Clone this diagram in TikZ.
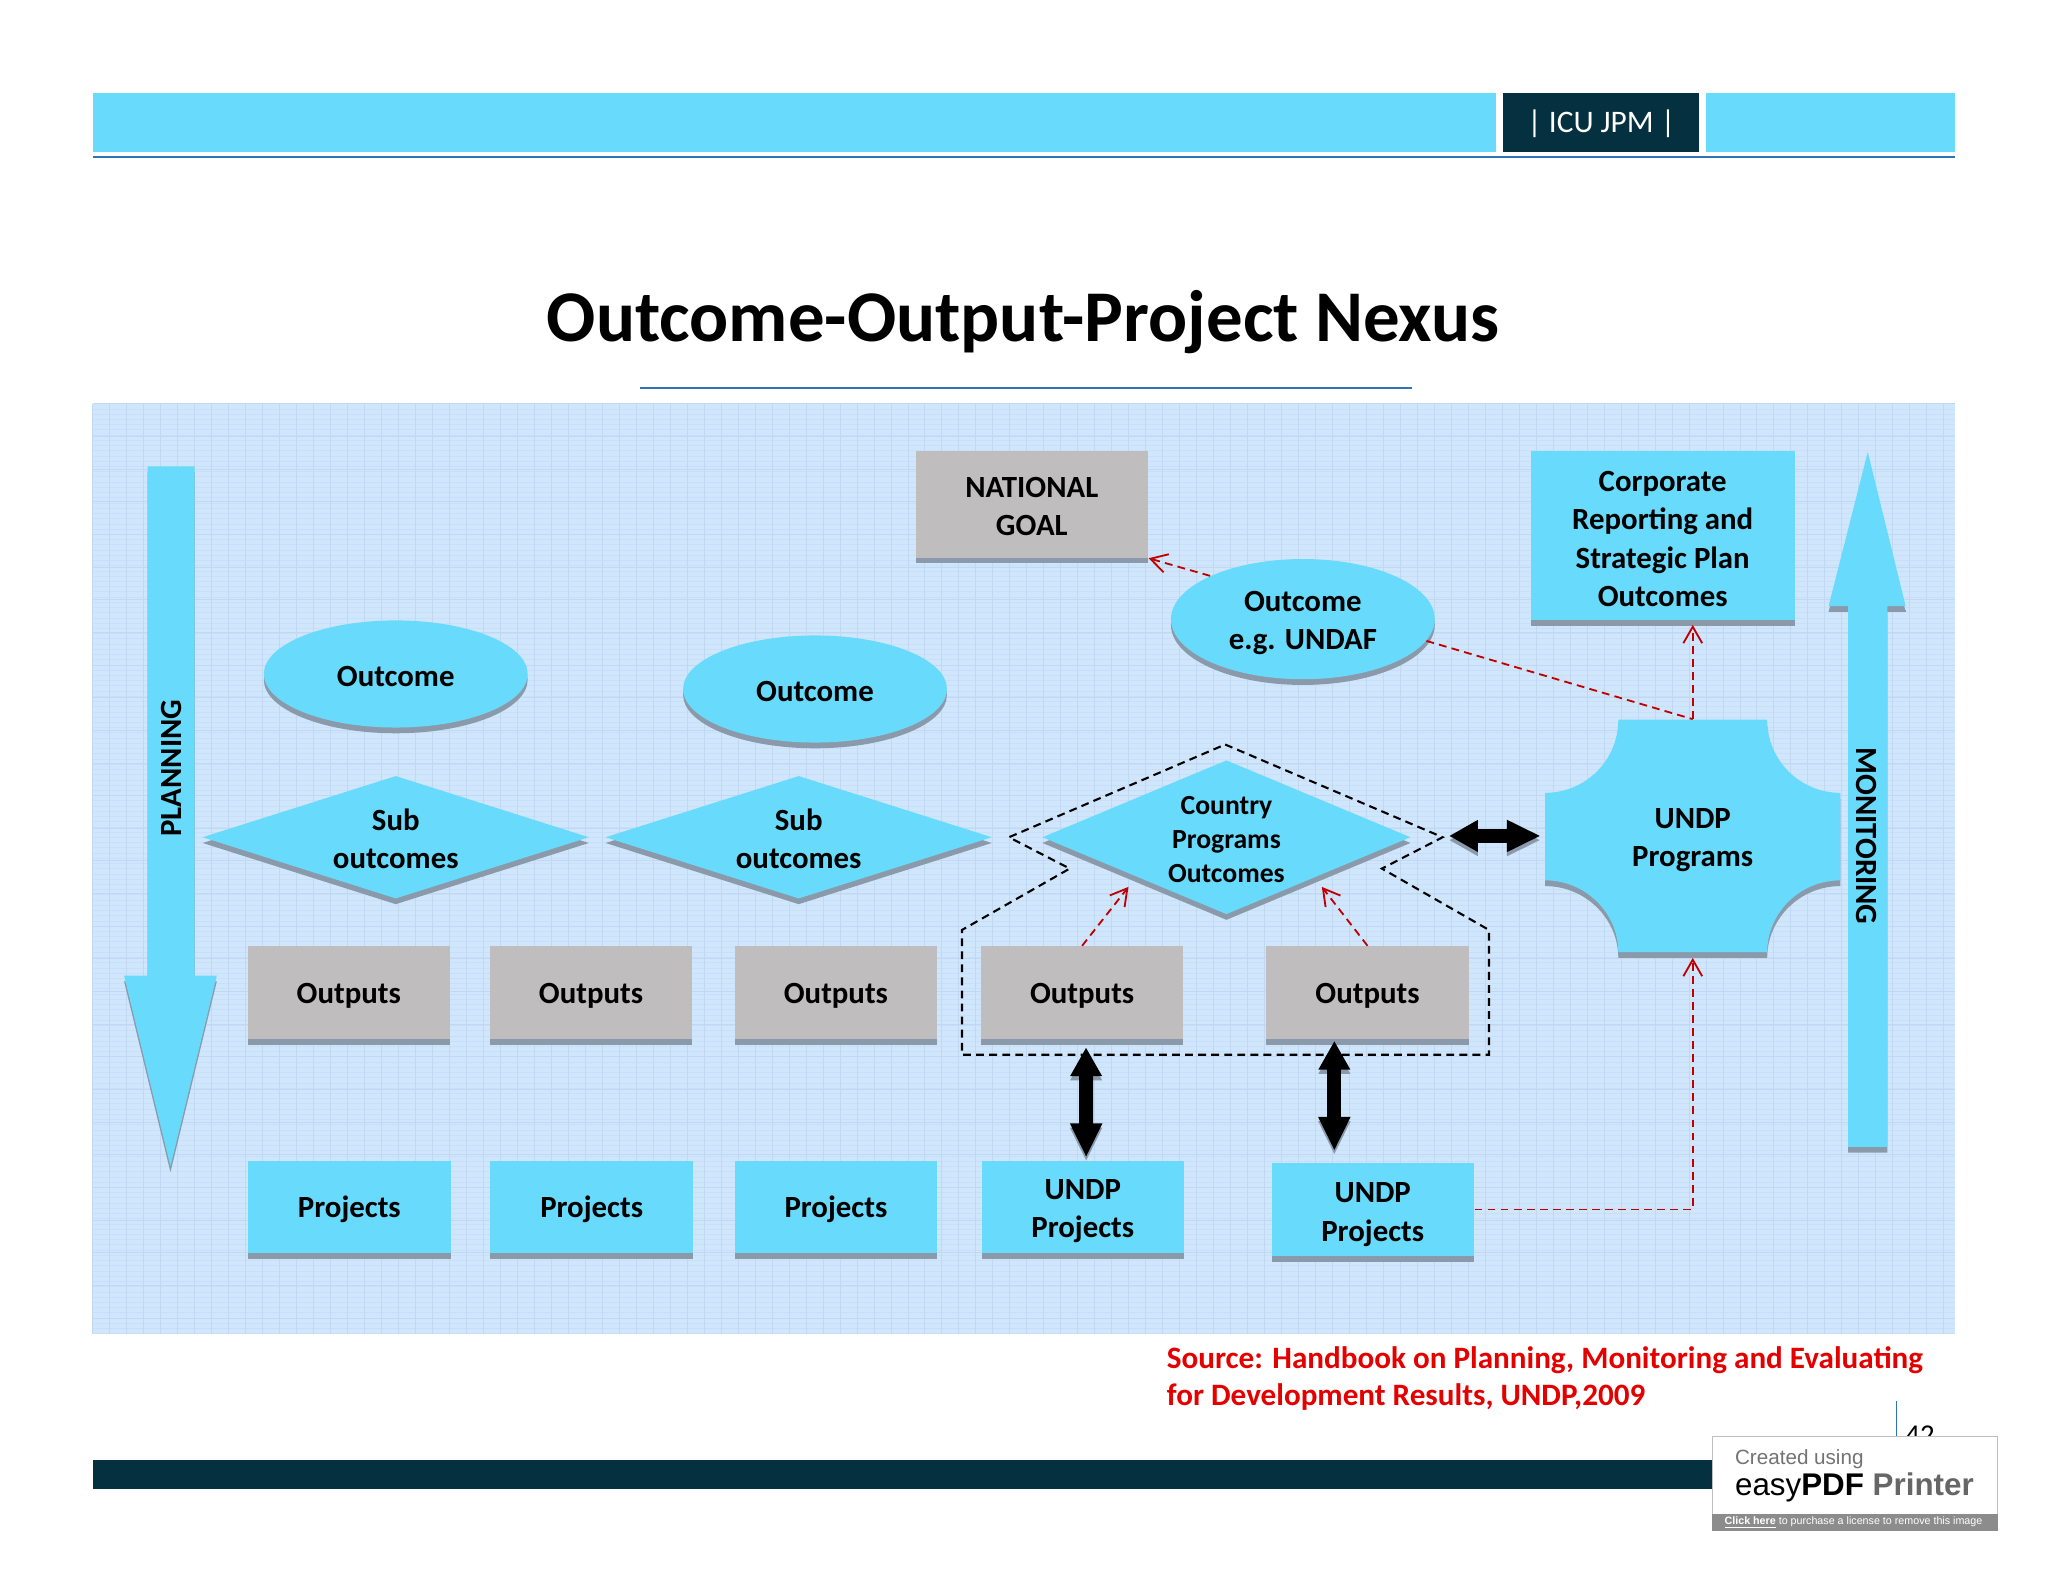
\documentclass[tikz,border=0pt]{standalone}
\usepackage{fontspec}
\setmainfont{Carlito}
\newfontfamily\wmfont{Liberation Sans}
\usetikzlibrary{shapes.geometric,arrows.meta}
\definecolor{skyfill}{HTML}{68DAFB}
\definecolor{boxgrey}{HTML}{BFBDBD}
\definecolor{edgegrey}{HTML}{8A9AAB}
\definecolor{darkbar}{HTML}{05303F}
\definecolor{panelblue}{HTML}{D0E6FC}
\definecolor{gridblue}{HTML}{C0D8F2}
\definecolor{ruleblue}{HTML}{2F75B5}
\definecolor{linkred}{HTML}{C00000}
\newcommand{\lowfirst}[1]{\rule{0pt}{#1pt}}
\tikzset{
  raised/.style={preaction={fill=edgegrey,transform canvas={yshift=-2.2pt}}},
  labeltext/.style={font=\fontsize{11.8}{14.4}\selectfont\bfseries,align=center,text=black,inner sep=0pt},
  cyanbox/.style={rectangle,raised,fill=skyfill,labeltext,minimum width=77.5pt,minimum height=35.5pt},
  greybox/.style={cyanbox,fill=boxgrey},
  outcomeoval/.style={ellipse,raised,fill=skyfill,labeltext,minimum width=101pt,minimum height=41pt},
  subdiamond/.style={diamond,aspect=3.15,raised,fill=skyfill,labeltext,minimum width=148pt,minimum height=47pt},
  redlink/.style={draw=linkred,densely dashed,line width=.7pt},
  redarrow/.style={redlink,-{Straight Barb[length=6.3pt,width=7.2pt]}},
  bigarrow/.style={line width=5.4pt,{Triangle[length=11pt,width=11.4pt]}-{Triangle[length=13pt,width=11.4pt]},
    preaction={draw=edgegrey,transform canvas={yshift=-1.6pt}}},
  gridline/.style={draw=gridblue,line width=.2pt}
}
\begin{document}
\begin{tikzpicture}[x=.5pt,y=-.5pt]
  \useasboundingbox (0,0) rectangle (1568,1211.2);
  \fill[skyfill] (71,71) rectangle (1145,116);
  \fill[skyfill] (1306,71) rectangle (1497,116);
  \node[fill=darkbar,text=white,minimum width=75pt,minimum height=22.5pt,inner sep=0pt,
    font=\fontsize{12}{14}\selectfont] (tag) at (1226,93.5) {\lowfirst{10}| ICU JPM |};
  \draw[ruleblue,line width=.8pt] (71,120.5) -- (1497,120.5);
  \node[font=\fontsize{27.9}{32}\selectfont\bfseries,inner sep=0pt] (title) at (783.5,246.5) {Outcome-Output-Project Nexus};
  \draw[ruleblue,line width=.6pt] (490,297) -- (1081,297);

  \fill[panelblue] (71,309) rectangle (1497,1021);
  \foreach \gy in {309,313,...,1021} \draw[gridline,draw opacity=.45] (71,\gy) -- (1497,\gy);
  \foreach \gy in {309,334,...,1021} \draw[gridline] (71,\gy) -- (1497,\gy);
  \foreach \gx in {71,84,...,1497} \draw[gridline] (\gx,309) -- (\gx,1021);

  \path[raised,fill=skyfill] (113,357) -- (149,357) -- (149,747) -- (166,747) -- (130.5,893) -- (95,747) -- (113,747) -- cycle;
  \node[labeltext,rotate=90] (planning) at (129.5,588) {\lowfirst{9.8}PLANNING};
  \path[fill=edgegrey] (1400,467) rectangle (1459,468.5);
  \path[raised,fill=skyfill] (1430,346) -- (1459,464) -- (1445,464) -- (1445,878) -- (1415,878) -- (1415,464) -- (1400,464) -- cycle;
  \node[labeltext,rotate=270] (monitoring) at (1431,640) {\lowfirst{9.8}MONITORING};

  \node[greybox,minimum width=89pt,minimum height=41pt] (natgoal) at (790,386) {\lowfirst{9.6}NATIONAL\\[.2pt]GOAL};
  \node[cyanbox,minimum width=101pt,minimum height=65pt] (corp) at (1273,410) {\lowfirst{10.4}Corporate\\[.2pt]Reporting and\\[.2pt]Strategic Plan\\[.2pt]Outcomes};
  \node[outcomeoval,minimum height=46pt] (undaf) at (997.5,474) {\lowfirst{10.6}Outcome\\[.2pt]e.g. UNDAF};
  \node[outcomeoval] (outcomea) at (303,516) {\lowfirst{9.8}Outcome};
  \node[outcomeoval] (outcomeb) at (624,527.5) {\lowfirst{9.8}Outcome};
  \node[subdiamond] (suba) at (303,641) {\lowfirst{9.2}Sub\\[.2pt]outcomes};
  \node[subdiamond] (subb) at (611.5,641) {\lowfirst{9.2}Sub\\[.2pt]outcomes};
  \node[subdiamond,aspect=2.4,minimum width=141pt,minimum height=59pt,font=\fontsize{10.6}{13}\selectfont\bfseries] (country) at (939,641) {\lowfirst{8.6}Country\\Programs\\Outcomes};

  \path[raised,fill=skyfill] (1239,551) -- (1353,551) .. controls (1353,582) and (1378,607) .. (1409,607)
    -- (1409,674) .. controls (1378,674) and (1353,699) .. (1353,729) -- (1239,729)
    .. controls (1239,699) and (1214,674) .. (1183,674) -- (1183,607)
    .. controls (1214,607) and (1239,582) .. (1239,551) -- cycle;
  \node[labeltext,minimum width=113pt,minimum height=89pt] (programs) at (1296,640) {\lowfirst{11}UNDP\\[.2pt]Programs};

  \node[greybox] (outputa) at (267,760) {\lowfirst{9.8}Outputs};
  \node[greybox] (outputb) at (452.5,760) {\lowfirst{9.8}Outputs};
  \node[greybox] (outputc) at (640,760) {\lowfirst{9.8}Outputs};
  \node[greybox] (outputd) at (828.5,760) {\lowfirst{9.8}Outputs};
  \node[greybox] (outpute) at (1047,760) {\lowfirst{9.8}Outputs};
  \node[cyanbox] (projecta) at (267.5,924) {\lowfirst{9.8}Projects};
  \node[cyanbox] (projectb) at (453,924) {\lowfirst{9.8}Projects};
  \node[cyanbox] (projectc) at (640,924) {\lowfirst{9.8}Projects};
  \node[cyanbox] (projectd) at (829,924) {\lowfirst{11}UNDP\\[.2pt]Projects};
  \node[cyanbox] (projecte) at (1051,926) {\lowfirst{11.6}UNDP\\[.2pt]Projects};

  \draw[densely dashed,line width=.8pt] (938,570) -- (1104.5,641) -- (1058,665) -- (1140,712) -- (1140,807.5)
    -- (736.5,807.5) -- (736.5,712) -- (819,665) -- (772.5,641) -- cycle;

  \coordinate (tipa) at (864,679);
  \coordinate (tipb) at (1012,679);
  \draw[redarrow] (undaf.155) -- (natgoal.south east);
  \draw[redlink] (undaf.-10) -- (programs.north);
  \draw[redarrow,shorten >=1.5pt] (programs.north) -- (programs.north |- corp.south);
  \draw[redarrow] (outputd.north) -- (tipa);
  \draw[redarrow] (outpute.north) -- (tipb);
  \draw[redarrow,shorten >=2pt] (projecte.east) -| (programs.south);

  \draw[bigarrow] ([xshift=1.5pt,yshift=-3pt]outputd.south) -- ([xshift=1.3pt,yshift=1pt]projectd.north);
  \draw[bigarrow] ([xshift=-12.7pt,yshift=-.5pt]outpute.south) -- ([xshift=-14.7pt,yshift=4.5pt]projecte.north);
  \draw[bigarrow] ([xshift=-1.5pt]country.east |- programs.west) ++(16pt,0) -- ([xshift=-1.5pt]programs.west);

  \node[anchor=west,font=\fontsize{11.92}{14.4}\selectfont\bfseries,text=red!90!black,align=left,inner sep=0pt] (source) at (893,1055.5) {Source: Handbook on Planning, Monitoring and Evaluating\\for Development Results, UNDP,2009};

  \fill[darkbar] (71,1118) rectangle (1312,1140);
  \draw[ruleblue,line width=.6pt] (1452,1073) -- (1452,1105);
  \node[anchor=base,font=\fontsize{11}{13}\selectfont,inner sep=0pt] (pagenum) at (1470,1106) {42};

  \node[rectangle,draw=black!25,fill=white,line width=.4pt,minimum width=109pt,minimum height=36pt,inner sep=0pt] (wmbox) at (1420,1136) {};
  \fill[black!45] (wmbox.south west) rectangle ([yshift=6.6pt]wmbox.south east);
  \node[anchor=west,inner sep=0pt,text=black!55,font=\wmfont\fontsize{7.9}{9}\selectfont] (wmtop) at (1328,1117.5) {Created using};
  \node[anchor=west,inner sep=0pt,font=\wmfont\fontsize{12}{13}\selectfont] (wmname) at (1328,1138.5) {easy\textbf{PDF} \textbf{\textcolor{black!60}{Printer}}};
  \node[anchor=west,inner sep=0pt,text=white,font=\wmfont\fontsize{4.1}{5}\selectfont] (wmclick) at (1320,1166) {\underline{\textbf{Click here}} to purchase a license to remove this image};
\end{tikzpicture}
\end{document}
